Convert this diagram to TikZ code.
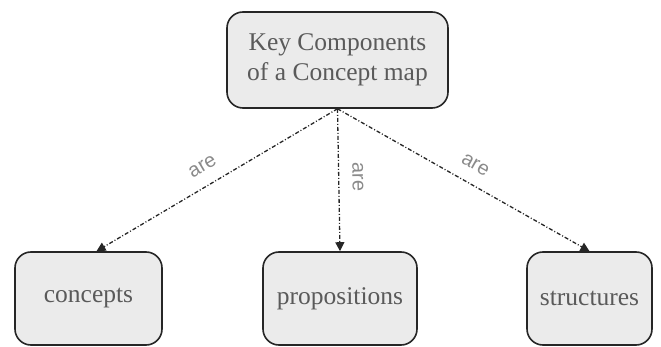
\documentclass[tikz,border=0pt]{standalone}
\usepackage{fontspec}
\setmainfont{Liberation Serif}
\newfontfamily\lblfont{Liberation Sans}
\usetikzlibrary{arrows.meta}
\definecolor{boxfill}{HTML}{EBEBEB}
\definecolor{boxtext}{HTML}{5A5A5A}
\definecolor{lbltext}{HTML}{8A8A8A}
\begin{document}
\begin{tikzpicture}[x=1pt,y=-1pt,
  cbox/.style={draw=black!85, line width=1.6pt, fill=boxfill, rounded corners=16pt,
    inner sep=0pt, align=center, text=boxtext,
    font=\rmfamily\fontsize{25.5}{30}\selectfont},
  link/.style={draw=black!85, line width=1.3pt, dash pattern=on 4pt off 2pt on 1pt off 2pt,
    -{Triangle[length=9pt,width=9pt]}},
  lbl/.style={font=\lblfont\fontsize{20}{22}\selectfont, text=lbltext, sloped, above=10pt, inner sep=3pt}
]
\useasboundingbox (0,0) rectangle (661,347);
\node[cbox, minimum width=221pt, minimum height=96pt] (top) at (337.5,60) {Key Components\\of a Concept map};
\node[cbox, minimum width=147pt, minimum height=93pt] (con) at (88.5,298.5) {concepts};
\node[cbox, minimum width=154pt, minimum height=93pt] (pro) at (340,298.5) {propositions};
\node[cbox, minimum width=125pt, minimum height=93pt] (str) at (589.5,298.5) {structures};
\draw[link] (top.south) -- node[lbl, pos=0.52] {are} ([xshift=8pt]con.north);
\draw[link] (top.south) -- node[lbl, pos=0.48] {are} (pro.north);
\draw[link] (top.south) -- node[lbl, pos=0.51] {are} (str.north);
\end{tikzpicture}
\end{document}
